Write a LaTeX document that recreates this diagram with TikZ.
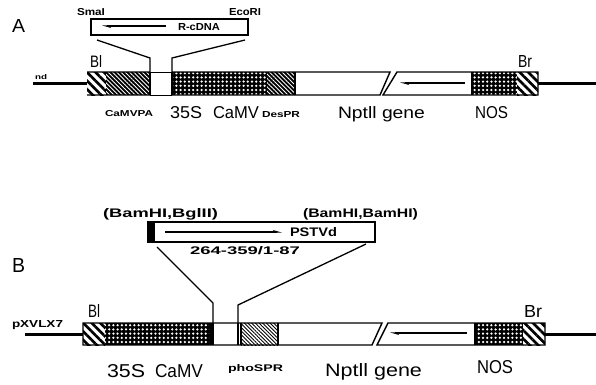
\documentclass[tikz,border=0pt]{standalone}
\usepackage{fontspec}
\usepackage{graphicx}
\setmainfont{Liberation Sans}
\usetikzlibrary{patterns.meta,arrows.meta}
\newcommand{\fitlab}[3]{\resizebox{#1pt}{#2pt}{#3}}
\tikzset{
  lab/.style={anchor=base west,inner sep=0pt,outer sep=0pt},
  barline/.style={line width=1.4pt,line join=miter},
  dnaline/.style={line width=3pt},
  funnel/.style={line width=1.3pt},
  insbox/.style={draw,line width=1.5pt,inner sep=0pt,fill=white},
  widehatch/.style={pattern={Lines[angle=-45,distance=6pt,line width=2.6pt]},pattern color=black},
  densehatch/.style={pattern={Lines[angle=-45,distance=3pt,line width=0.8pt]},pattern color=white},
  finehatch/.style={pattern={Lines[angle=-45,distance=2.6pt,line width=0.9pt]},pattern color=black},
  dotty/.style={pattern={Dots[radius=1.25pt,distance=4.2pt]},pattern color=white},
  harp/.style={line width=1.2pt,-{Stealth[harpoon,length=7pt,width=4pt]}}
}
\begin{document}
\begin{tikzpicture}[x=1pt,y=-1pt]
\useasboundingbox (0,0) rectangle (596,384);
% ================= Panel A =================
\node[lab] (labA) at (12,32) {\fitlab{13}{13}{A}};
% insert box
\node[insbox,minimum width=157pt,minimum height=16pt] (boxA) at (169.5,27) {};
\coordinate (aArS) at (166,26);
\coordinate (aArE) at (102,26);
\draw[harp] (aArS) -- (aArE);
\node[lab] (rcdna) at (178,30) {\fitlab{42}{7}{\bfseries R-cDNA}};
\node[lab] (smaI) at (77,15) {\fitlab{28}{7}{\bfseries SmaI}};
\node[lab] (ecoRI) at (229,15) {\fitlab{32}{7}{\bfseries EcoRI}};
% funnel
\coordinate (fa1) at (97,40);
\coordinate (fa2) at (150,58);
\coordinate (fa3) at (150,72);
\coordinate (fb1) at (245,40);
\coordinate (fb2) at (172,58);
\coordinate (fb3) at (172,72);
\draw[funnel] (fa1) -- (fa2) -- (fa3);
\draw[funnel] (fb1) -- (fb2) -- (fb3);
% DNA lines
\coordinate (aL0) at (33,83);
\coordinate (aL1) at (87,83);
\coordinate (aR0) at (538,83);
\coordinate (aR1) at (596,83);
\draw[dnaline] (aL0) -- (aL1);
\draw[dnaline] (aR0) -- (aR1);
\node[lab] (nd) at (35,79) {\fitlab{12}{5}{\bfseries nd}};
% bar segments
\path[widehatch] (87,72) rectangle (106,95);
\fill[black] (106,72) rectangle (150,95);
\path[densehatch] (106,72) rectangle (150,95);
\fill[black] (172,72) rectangle (267,95);
\path[dotty] (172,72) rectangle (267,95);
\fill[black] (267,72) rectangle (295,95);
\path[densehatch] (267,72) rectangle (295,95);
\fill[black] (472,72) rectangle (517,95);
\path[dotty] (472,72) rectangle (517,95);
\path[widehatch] (517,72) rectangle (538,95);
\draw[barline] (87,72) -- (150,72) (172,72) -- (390,72) -- (380,95) -- (172,95) (150,95) -- (87,95) -- cycle;
\draw[line width=0.7pt] (150,72) -- (172,72) (150,95) -- (172,95);
\draw[barline] (397,72) -- (538,72) -- (538,95) -- (383,95) -- cycle;
\draw[barline] (295,72) -- (295,95) (472,72) -- (472,95) (150,72) -- (150,95) (172,72) -- (172,95);
\coordinate (aG0) at (465,83);
\coordinate (aG1) at (400,83);
\draw[harp] (aG0) -- (aG1);
% labels
\node[lab] (blA) at (90,67) {\fitlab{12}{12}{Bl}};
\node[lab] (brA) at (518,67) {\fitlab{14}{12}{Br}};
\node[lab] (pa) at (105,116) {\fitlab{48}{6}{\bfseries CaMVPA}};
\node[lab] (s35A) at (170,118) {\fitlab{32}{12}{35S}};
\node[lab] (camvA) at (213,118) {\fitlab{46}{12}{CaMV}};
\node[lab] (desA) at (262,117) {\fitlab{38}{6}{\bfseries DesPR}};
\node[lab] (nptA) at (338,118) {\fitlab{87}{12}{Nptll gene}};
\node[lab] (nosA) at (475,118) {\fitlab{33}{12}{NOS}};
% ================= Panel B =================
\node[lab] (labB) at (12,272) {\fitlab{13}{14}{B}};
\node[insbox,minimum width=227pt,minimum height=20pt] (boxB) at (261.5,232) {};
\fill[black] (148,222) rectangle (155,242);
\coordinate (bArS) at (165,232);
\coordinate (bArE) at (282,232);
\draw[harp] (bArS) -- (bArE);
\node[lab] (pstvd) at (290,236) {\fitlab{47}{9}{\bfseries PSTVd}};
\node[lab] (bglB) at (103,217) {\fitlab{115}{9}{\bfseries (BamHI,BglII)}};
\node[lab] (bamB) at (303,217) {\fitlab{115}{9}{\bfseries (BamHI,BamHI)}};
\node[lab] (nums) at (190,254) {\fitlab{110}{8}{\bfseries 264-359/1-87}};
% funnel
\coordinate (fc1) at (157,247);
\coordinate (fc2) at (213,303);
\coordinate (fc3) at (213,323);
\coordinate (fd1) at (366,244);
\coordinate (fd2) at (238,305);
\coordinate (fd3) at (238,323);
\draw[funnel] (fc1) -- (fc2) -- (fc3);
\draw[funnel] (fd1) -- (fd2) -- (fd3);
% DNA lines
\coordinate (bL0) at (25,334);
\coordinate (bL1) at (83,334);
\coordinate (bR0) at (545,334);
\coordinate (bR1) at (596,334);
\draw[dnaline] (bL0) -- (bL1);
\draw[dnaline] (bR0) -- (bR1);
\node[lab] (pxv) at (12,327) {\fitlab{51}{7}{\bfseries pXVLX7}};
% bar segments
\path[widehatch] (83,323) rectangle (105,345);
\fill[black] (105,323) rectangle (213,345);
\path[dotty] (105,323) rectangle (209,345);
\path[finehatch] (241,323) rectangle (278,345);
\fill[black] (475,323) rectangle (523,345);
\path[dotty] (475,323) rectangle (523,345);
\path[widehatch] (523,323) rectangle (545,345);
\draw[barline] (83,323) -- (382,323) -- (372,345) -- (83,345) -- cycle;
\draw[barline] (388,323) -- (545,323) -- (545,345) -- (377,345) -- cycle;
\draw[barline] (213,323) -- (213,345) (238,323) -- (238,345) (241,323) -- (241,345) (278,323) -- (278,345) (475,323) -- (475,345);
\coordinate (bG0) at (467,333);
\coordinate (bG1) at (390,333);
\draw[harp] (bG0) -- (bG1);
% labels
\node[lab] (blB) at (88,317) {\fitlab{12}{13}{Bl}};
\node[lab] (brB) at (524,317) {\fitlab{18}{12}{Br}};
\node[lab] (s35B) at (107,377) {\fitlab{38}{13}{35S}};
\node[lab] (camvB) at (155,377) {\fitlab{48}{13}{CaMV}};
\node[lab] (phoB) at (228,371) {\fitlab{55}{7}{\bfseries phoSPR}};
\node[lab] (nptB) at (325,376) {\fitlab{97}{13}{Nptll gene}};
\node[lab] (nosB) at (477,373) {\fitlab{36}{13}{NOS}};
\end{tikzpicture}
\end{document}
